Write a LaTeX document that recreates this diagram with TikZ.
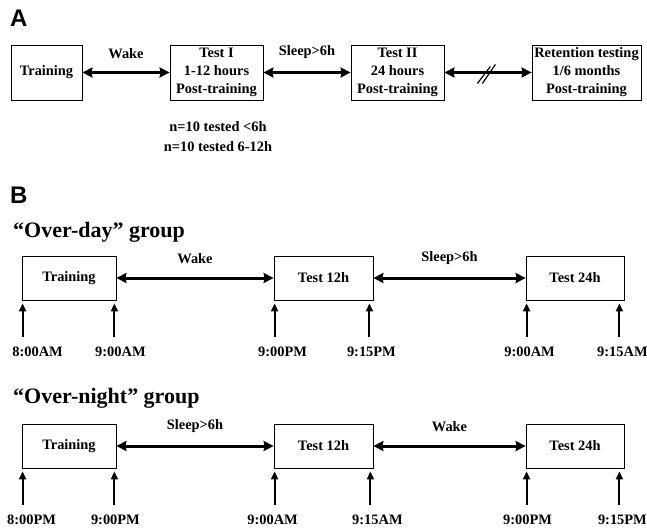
\documentclass[tikz,border=0pt]{standalone}
\usepackage{fontspec}
\setmainfont{Liberation Serif}
\newfontfamily\panelfont{Liberation Sans}
\usetikzlibrary{arrows.meta}

\begin{document}
\begin{tikzpicture}[x=1pt,y=-1pt]
		\tikzset{stage/.style={draw,line width=0.8pt,align=center,inner sep=2pt,font=\bfseries\fontsize{14.4}{18}\selectfont}}
		\tikzset{lbl/.style={font=\bfseries\fontsize{14.4}{18}\selectfont}}
		\tikzset{dblarr/.style={line width=3pt,{Stealth[length=10pt,width=10pt,inset=1pt]}-{Stealth[length=10pt,width=10pt,inset=1pt]}}}
		\tikzset{uparr/.style={line width=2pt,-{Triangle[length=8pt,width=7pt]}}}
		\tikzset{panel/.style={font=\panelfont\bfseries\fontsize{24}{28}\selectfont,inner sep=0pt,anchor=west}}
		\tikzset{group/.style={font=\bfseries\fontsize{22}{26}\selectfont,inner sep=0pt,anchor=west}}

		\useasboundingbox (0,0) rectangle (647,529);

		% panel A
		\node[panel] (pA) at (10,18.5) {A};
		\node[stage,minimum width=71pt,minimum height=55pt] (tr) at (46.5,72.5) {Training};
		\node[stage,minimum width=93pt,minimum height=55pt] (t1) at (216.5,72.5) {Test I\\1-12 hours\\Post-training};
		\node[stage,minimum width=93pt,minimum height=55pt] (t2) at (397.5,72.5) {Test II\\24 hours\\Post-training};
		\node[stage,minimum width=109pt,minimum height=55pt] (ret) at (586.5,72.5) {Retention testing\\1/6 months\\Post-training};
		\draw[dblarr] (tr) -- node[lbl,midway,above=9pt] (wkA) {Wake} (t1);
		\draw[dblarr] (t1) -- node[lbl,midway,above=9pt] (slA) {Sleep>6h} (t2);
		\draw[dblarr] (t2) -- coordinate[pos=0.47] (brk) (ret);
		\draw[line width=1.2pt] ([shift={(-8,11)}]brk) -- ([shift={(5,-6)}]brk);
		\draw[line width=1.2pt] ([shift={(-3,11)}]brk) -- ([shift={(10,-8)}]brk);
		\node[lbl] (n1) at (218,127) {n=10 tested <6h};
		\node[lbl] (n2) at (218,147) {n=10 tested 6-12h};

		% panel B
		\node[panel] (pB) at (10,195) {B};
		\node[group] (gD) at (13,232) {“Over-day” group};
		\node[group] (gN) at (13,398) {“Over-night” group};

		\begin{scope}
			\node[stage,minimum width=94pt,minimum height=44pt] (trD) at (69,278) {Training};
			\node[stage,minimum width=99pt,minimum height=44pt] (t12D) at (323.5,278) {Test 12h};
			\node[stage,minimum width=98pt,minimum height=44pt] (t24D) at (575,278) {Test 24h};
			\draw[dblarr] (trD) -- node[lbl,midway,above=9pt] (wkD) {Wake} (t12D);
			\draw[dblarr] (t12D) -- node[lbl,midway,above=9pt] (slD) {Sleep>6h} (t24D);
			\draw[uparr] ([xshift=1pt]trD.south west) ++(0,37) node[lbl,below=5pt,xshift=15pt] {8:00AM} -- ++(0,-34);
			\draw[uparr] ([xshift=-2pt]trD.south east) ++(0,37) node[lbl,below=5pt,xshift=6pt] {9:00AM} -- ++(0,-34);
			\draw[uparr] ([xshift=1pt]t12D.south west) ++(0,37) node[lbl,below=5pt,xshift=8pt] {9:00PM} -- ++(0,-34);
			\draw[uparr] ([xshift=-4pt]t12D.south east) ++(0,37) node[lbl,below=5pt,xshift=2pt] {9:15PM} -- ++(0,-34);
			\draw[uparr] ([xshift=1pt]t24D.south west) ++(0,37) node[lbl,below=5pt,xshift=3pt] {9:00AM} -- ++(0,-34);
			\draw[uparr] ([xshift=-5pt]t24D.south east) ++(0,37) node[lbl,below=5pt,xshift=3pt] {9:15AM} -- ++(0,-34);
		\end{scope}

		\begin{scope}[yshift=-168pt]
			\node[stage,minimum width=94pt,minimum height=44pt] (trN) at (69,278) {Training};
			\node[stage,minimum width=99pt,minimum height=44pt] (t12N) at (323.5,278) {Test 12h};
			\node[stage,minimum width=98pt,minimum height=44pt] (t24N) at (575,278) {Test 24h};
			\draw[dblarr] (trN) -- node[lbl,midway,above=9pt] (slN) {Sleep>6h} (t12N);
			\draw[dblarr] (t12N) -- node[lbl,midway,above=9pt] (wkN) {Wake} (t24N);
			\draw[uparr] ([xshift=1pt]trN.south west) ++(0,37) node[lbl,below=5pt,xshift=9pt] {8:00PM} -- ++(0,-34);
			\draw[uparr] ([xshift=-2pt]trN.south east) ++(0,37) node[lbl,below=5pt,xshift=1pt] {9:00PM} -- ++(0,-34);
			\draw[uparr] ([xshift=1pt]t12N.south west) ++(0,37) node[lbl,below=5pt,xshift=-2pt] {9:00AM} -- ++(0,-34);
			\draw[uparr] ([xshift=-3pt]t12N.south east) ++(0,37) node[lbl,below=5pt,xshift=7pt] {9:15AM} -- ++(0,-34);
			\draw[uparr] ([xshift=1pt]t24N.south west) ++(0,37) node[lbl,below=5pt,xshift=1pt] {9:00PM} -- ++(0,-34);
			\draw[uparr] ([xshift=-5pt]t24N.south east) ++(0,37) node[lbl,below=5pt,xshift=3pt] {9:15PM} -- ++(0,-34);
		\end{scope}
\end{tikzpicture}
\end{document}
